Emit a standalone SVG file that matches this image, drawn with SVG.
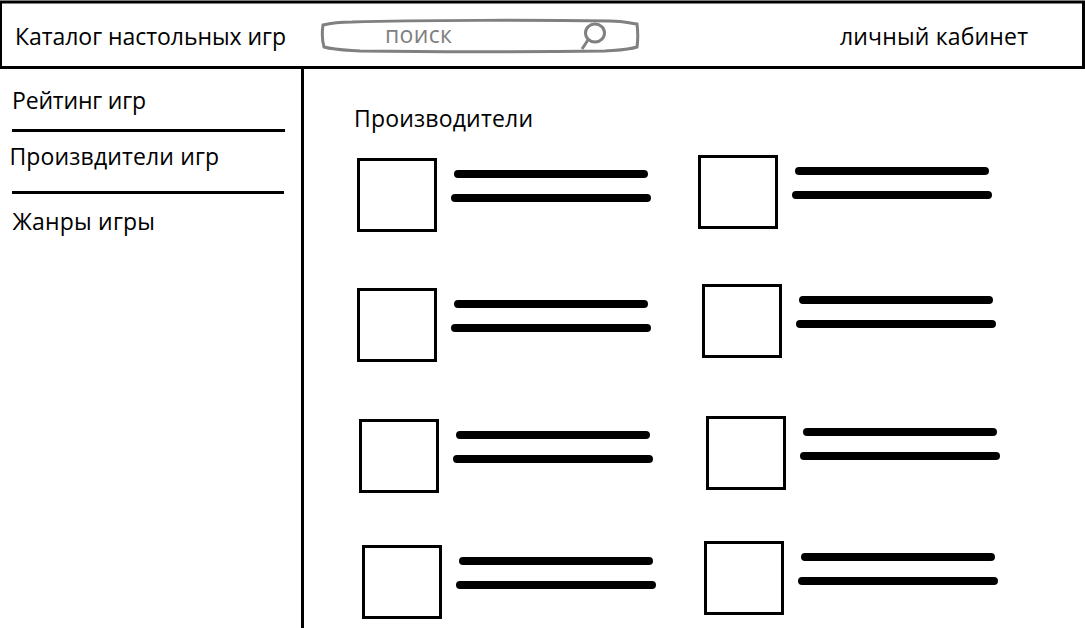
<svg xmlns="http://www.w3.org/2000/svg" width="1085" height="628" viewBox="0 0 1085 628">
<style>
text{font-family:"Open Sans","Noto Sans",sans-serif;font-size:23px;fill:#000}
.box{fill:#fff;stroke:#000;stroke-width:3}
.bar{stroke:#000;stroke-width:8;stroke-linecap:round;fill:none}
.rule{stroke:#000;stroke-width:3;fill:none}
.mark{fill:none;stroke:#808080;stroke-width:3}
</style>
<rect width="1085" height="628" fill="#fff"/>
<g id="connectors">
<path class="rule" d="M302.500 68V628M12 130.500H285M12 192.500H284"/>
</g>
<g id="header"><rect class="box" x="0.500" y="2" width="1083" height="65.500"/>
<text x="15" y="45" textLength="271">Каталог настольных игр</text>
<text x="840" y="45" textLength="188">личный кабинет</text></g>
<g id="search"><path class="mark" d="M323 25C335 22 345 22 352 22C420 20 540 20 610 21C622 21 630 23 637 24C638 32 638 40 637 47C628 50 618 50 605 51C520 52 430 52 360 51C345 50 335 50 324 47C322 40 322 32 323 25Z"/>
<text x="385" y="43" textLength="67" style="fill:#808080">поиск</text>
<ellipse class="mark" cx="595" cy="33" rx="9.500" ry="9"/><path class="mark" d="M588 40L582 49"/></g>
<g id="menu"><text x="12" y="109" textLength="134">Рейтинг игр</text><text x="9.500" y="165" textLength="209.500">Произвдители игр</text><text x="12.500" y="230" textLength="142.500">Жанры игры</text></g>
<g id="title"><text x="354" y="127" textLength="179">Производители</text></g>
<g id="item1"><rect class="box" x="358.500" y="159.500" width="77" height="71"/><path class="bar" d="M458 174H644M455 198H647"/></g>
<g id="item2"><rect class="box" x="699.500" y="156.500" width="77" height="71"/><path class="bar" d="M799 171H985M796 195H988"/></g>
<g id="item3"><rect class="box" x="358.500" y="289.500" width="77" height="71"/><path class="bar" d="M458 304H644M455 328H647"/></g>
<g id="item4"><rect class="box" x="703.500" y="285.500" width="77" height="71"/><path class="bar" d="M803 300H989M800 324H992"/></g>
<g id="item5"><rect class="box" x="360.500" y="420.500" width="77" height="71"/><path class="bar" d="M460 435H646M457 459H649"/></g>
<g id="item6"><rect class="box" x="707.500" y="417.500" width="77" height="71"/><path class="bar" d="M807 432H993M804 456H996"/></g>
<g id="item7"><rect class="box" x="363.500" y="546.500" width="77" height="71"/><path class="bar" d="M463 561H649M460 585H652"/></g>
<g id="item8"><rect class="box" x="705.500" y="542.500" width="77" height="71"/><path class="bar" d="M805 557H991M802 581H994"/></g>
</svg>
